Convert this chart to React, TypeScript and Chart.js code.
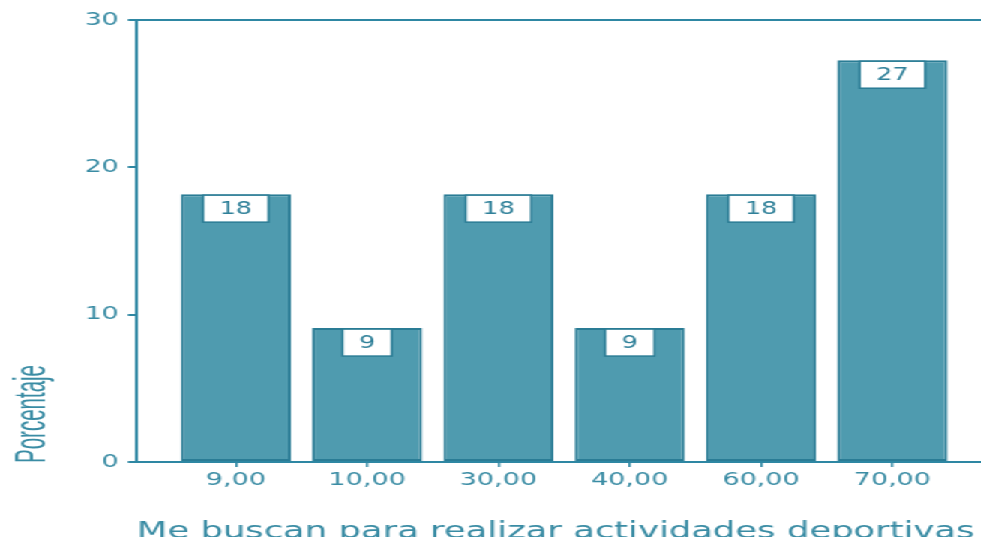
import React, { useEffect, useRef } from "react";
import { Chart, registerables } from "chart.js";

Chart.register(...registerables);

// ---- data ----
const categories = ["9,00", "10,00", "30,00", "40,00", "60,00", "70,00"];
const percentages = [18.18, 9.09, 18.18, 9.09, 18.18, 27.27];
const yTickValues = [0, 10, 20, 30];
const yTitle = "Porcentaje";
const xTitle = "Me buscan para realizar actividades deportivas";

// ---- styling ----
const STRETCH = 1.5;
const W = 981 / STRETCH;
const H = 537;
const BAR_FILL = "#4F9BAF";
const BAR_BORDER = "#2A7C95";
const AXIS = "#2E87A3";
const TEXT = "#3A8CA4";
const LABEL_TEXT = "#2F8099";
const FONT = "'DejaVu Sans', sans-serif";

const annotatePlugin = {
  id: "annotate",
  afterDatasetsDraw(chart: any) {
    const ctx = chart.ctx;
    const meta = chart.getDatasetMeta(0);
    ctx.save();
    ctx.font = `17px ${FONT}`;
    meta.data.forEach((bar: any, i: number) => {
      const txt = String(Math.round(percentages[i]));
      const tw = ctx.measureText(txt).width;
      const bw = tw + 22;
      const bh = 27;
      const x = bar.x - bw / 2;
      const y = bar.y + 1;
      ctx.fillStyle = "#ffffff";
      ctx.fillRect(x, y, bw, bh);
      ctx.strokeStyle = BAR_BORDER;
      ctx.lineWidth = 1.5;
      ctx.strokeRect(x, y, bw, bh);
      ctx.fillStyle = LABEL_TEXT;
      ctx.textAlign = "center";
      ctx.textBaseline = "middle";
      ctx.fillText(txt, bar.x, y + bh / 2 + 1);
    });
    ctx.restore();
  },
  afterDraw(chart: any) {
    const ctx = chart.ctx;
    const area = chart.chartArea;
    ctx.save();
    ctx.font = `29px 'Liberation Sans', Arial, sans-serif`;
    const yw = ctx.measureText(yTitle).width;
    const sx = 98 / yw;
    ctx.translate(29.5, area.bottom + 1);
    ctx.rotate(-Math.PI / 2);
    ctx.scale(sx, 1);
    ctx.fillStyle = TEXT;
    ctx.textAlign = "left";
    ctx.textBaseline = "alphabetic";
    ctx.fillText(yTitle, 0, 0);
    ctx.restore();

    ctx.save();
    ctx.font = `23.6px ${FONT}`;
    ctx.fillStyle = TEXT;
    ctx.textAlign = "left";
    ctx.textBaseline = "alphabetic";
    ctx.fillText(xTitle, area.left, 538);
    ctx.restore();
  },
};

export default function App() {
  const canvasRef = useRef<HTMLCanvasElement | null>(null);

  useEffect(() => {
    if (!canvasRef.current) return;
    const chart = new Chart(canvasRef.current, {
      type: "bar",
      data: {
        datasets: [
          {
            data: percentages.map((v, i) => ({ x: i, y: v })),
            backgroundColor: BAR_FILL,
            borderColor: BAR_BORDER,
            borderWidth: 2,
            borderSkipped: false,
            categoryPercentage: 1,
            barPercentage: 0.838,
          },
        ],
      },
      options: {
        animation: false,
        responsive: true,
        maintainAspectRatio: false,
        layout: { padding: { top: 20, left: 0, right: 0, bottom: 0 } },
        plugins: {
          legend: { display: false },
          tooltip: { enabled: false },
        },
        scales: {
          x: {
            type: "linear",
            offset: false,
            min: -0.754,
            max: 5.674,
            afterBuildTicks: (scale: any) => {
              scale.ticks = categories.map((_, i) => ({ value: i }));
            },
            afterFit: (scale: any) => {
              scale.height = H - 462;
            },
            border: { display: true, color: AXIS, width: 2 },
            grid: {
              offset: false,
              drawOnChartArea: false,
              drawTicks: true,
              tickLength: 5,
              color: AXIS,
              lineWidth: 1.5,
            },
            ticks: {
              color: TEXT,
              font: { family: FONT, size: 18 },
              padding: 3,
              maxRotation: 0,
              autoSkip: false,
              callback: (v: any) => categories[Math.round(Number(v))] ?? "",
            },
          },
          y: {
            type: "linear",
            min: 0,
            max: 30,
            afterBuildTicks: (scale: any) => {
              scale.ticks = yTickValues.map((v) => ({ value: v }));
            },
            afterFit: (scale: any) => {
              scale.width = 91.3;
            },
            border: { display: true, color: AXIS, width: 2 },
            grid: {
              drawTicks: true,
              tickLength: 6,
              tickColor: AXIS,
              lineWidth: 2,
              color: (c: any) => (c.tick && c.tick.value === 30 ? AXIS : "rgba(0,0,0,0)"),
            },
            ticks: {
              color: TEXT,
              font: { family: FONT, size: 18 },
              padding: 6,
            },
          },
        },
      },
      plugins: [annotatePlugin],
    });
    return () => chart.destroy();
  }, []);

  return (
    <div
      style={{
        position: "absolute",
        left: 0,
        top: 0,
        width: W,
        height: H,
        transform: `scaleX(${STRETCH})`,
        transformOrigin: "0 0",
        background: "#ffffff",
      }}
    >
      <canvas ref={canvasRef} />
    </div>
  );
}
